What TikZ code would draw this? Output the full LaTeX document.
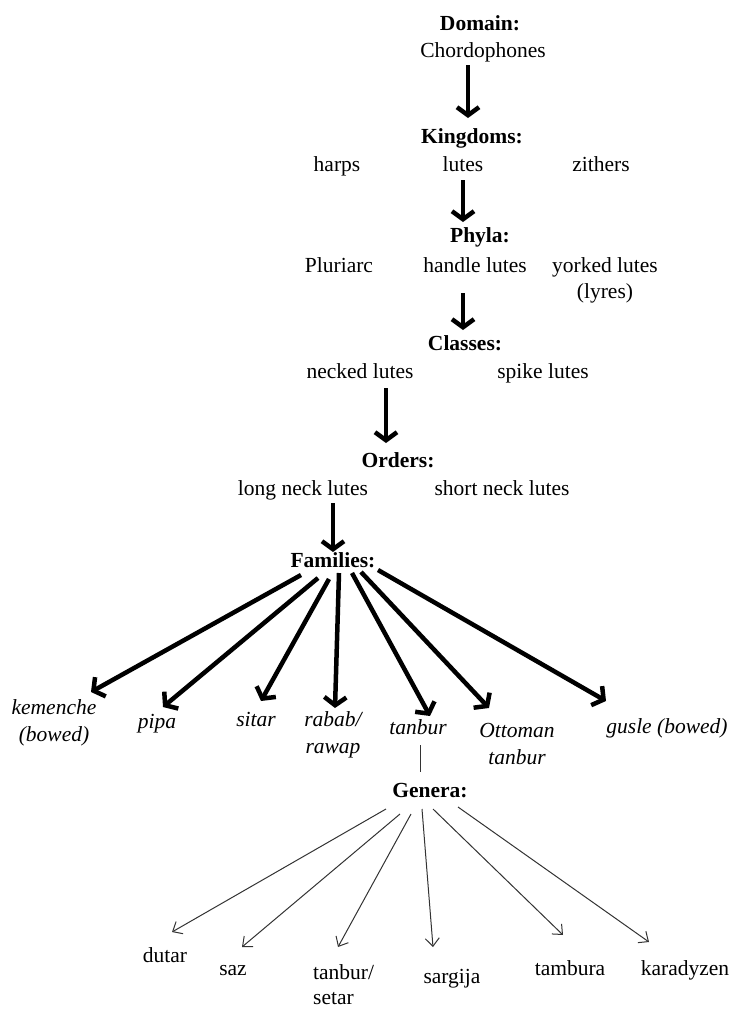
\documentclass[tikz,border=0pt]{standalone}
\usepackage{fontspec}
\setmainfont{Liberation Serif}
\usetikzlibrary{arrows.meta}
\begin{document}
\begin{tikzpicture}[x=1pt,y=-1pt,
  every node/.style={inner sep=0pt, anchor=base, font=\fontsize{21.5}{26}\selectfont},
  head/.style={font=\fontsize{21.5}{26}\selectfont\bfseries},
  fam/.style={font=\fontsize{21.5}{27}\selectfont\itshape, align=center},
  big/.style={line width=4.5pt, -{Straight Barb[length=8pt,width=22pt]}},
  thinarrow/.style={line width=1pt, draw=black!80, -{Straight Barb[length=8pt,width=14pt]}},
  plain/.style={line width=1pt, draw=black!80},
]
\useasboundingbox (0,0) rectangle (731,1010);

% upper hierarchy (multi-line nodes are placed by the baseline of their last line)
\node[head] (domain) at (480,30) {Domain:};
\node (chord) at (483,57) {Chordophones};
\node[head] (kingdoms) at (472,143) {Kingdoms:};
\node (harps) at (337,171) {harps};
\node (lutes) at (463,171) {lutes};
\node (zithers) at (601,171) {zithers};
\node[head] (phyla) at (480,242) {Phyla:};
\node (pluri) at (339,272) {Pluriarc};
\node (handle) at (475,272) {handle lutes};
\node[align=center] (yorked) at (605,298) {yorked lutes\\(lyres)};
\node[head] (classes) at (465,350) {Classes:};
\node (necked) at (360,378) {necked lutes};
\node (spike) at (543,378) {spike lutes};
\node[head] (orders) at (398,467) {Orders:};
\node (longneck) at (303,495) {long neck lutes};
\node (shortneck) at (502,495) {short neck lutes};
\node[head] (families) at (333,567) {Families:};

\draw[big] ([xshift=-15pt,yshift=-8pt]chord.base) -- ([xshift=-4pt,yshift=25pt]kingdoms.base);
\draw[big] ([yshift=-9pt]lutes.base) -- ([xshift=-17pt,yshift=20pt]phyla.base);
\draw[big] ([xshift=-12pt,yshift=-21pt]handle.base) -- ([xshift=-2pt,yshift=20pt]classes.base);
\draw[big] ([xshift=26pt,yshift=-10pt]necked.base) -- ([xshift=-12pt,yshift=24pt]orders.base);
\draw[big] ([xshift=30pt,yshift=-8pt]longneck.base) -- ([yshift=15pt]families.base);

% families
\node[fam] (kem) at (54,741) {kemenche\\(bowed)};
\node[fam] (pipa) at (157,728) {pipa};
\node[fam] (sitar) at (256,726) {sitar};
\node[fam] (rabab) at (333,753) {rabab/\\rawap};
\node[fam] (tanbur) at (418,734) {tanbur};
\node[fam] (ottoman) at (517,764) {Ottoman\\tanbur};
\node[fam] (gusle) at (667,733) {gusle (bowed)};

\draw[big] ([xshift=-32pt,yshift=-8pt]families.base) -- ([xshift=37pt,yshift=49pt]kem.base);
\draw[big] ([xshift=-15pt,yshift=-11pt]families.base) -- ([xshift=6pt,yshift=21pt]pipa.base);
\draw[big] ([xshift=-4pt,yshift=-12pt]families.base) -- ([xshift=5pt,yshift=25pt]sitar.base);
\draw[big] ([xshift=6pt,yshift=-6pt]families.base) -- ([xshift=2pt,yshift=45pt]rabab.base);
\draw[big] ([xshift=19pt,yshift=-6pt]families.base) -- ([xshift=12pt,yshift=18pt]tanbur.base);
\draw[big] ([xshift=28pt,yshift=-5pt]families.base) -- ([xshift=-28pt,yshift=56pt]ottoman.base);
\draw[big] ([xshift=45pt,yshift=-3pt]families.base) -- ([xshift=-61pt,yshift=32pt]gusle.base);

% genera
\node[head] (genera) at (430,797) {Genera:};
\draw[plain] ([xshift=2pt,yshift=-11pt]tanbur.base) -- ([xshift=-10pt,yshift=25pt]genera.base);

\node (dutar) at (165,962) {dutar};
\node (saz) at (233,975) {saz};
\node[align=left, anchor=base west, font=\fontsize{21.5}{25}\selectfont] (setar) at (313,1004) {tanbur/\\setar};
\node (sargija) at (452,983) {sargija};
\node (tambura) at (570,975) {tambura};
\node (karadyzen) at (685,975) {karadyzen};

\draw[thinarrow] ([xshift=-44pt,yshift=-12pt]genera.base) -- ([xshift=7pt,yshift=30pt]dutar.base);
\draw[thinarrow] ([xshift=-30pt,yshift=-17pt]genera.base) -- ([xshift=9pt,yshift=28pt]saz.base);
\draw[thinarrow] ([xshift=-19pt,yshift=-17pt]genera.base) -- ([xshift=25pt,yshift=57pt]setar.base west);
\draw[thinarrow] ([xshift=-8pt,yshift=-12pt]genera.base) -- ([xshift=-19pt,yshift=36pt]sargija.base);
\draw[thinarrow] ([xshift=3pt,yshift=-12pt]genera.base) -- ([xshift=-7pt,yshift=40pt]tambura.base);
\draw[thinarrow] ([xshift=28pt,yshift=-10pt]genera.base) -- ([xshift=-36pt,yshift=33pt]karadyzen.base);
\end{tikzpicture}
\end{document}
